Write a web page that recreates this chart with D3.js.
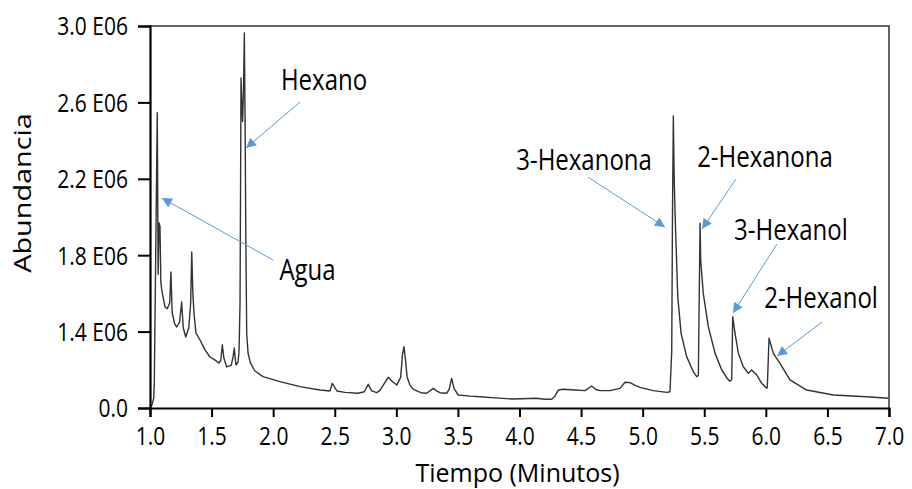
<!DOCTYPE html>
<html>
<head>
<meta charset="utf-8">
<script src="https://cdn.jsdelivr.net/npm/d3@7"></script>
<style>
  body { margin: 0; background: #fff; }
  text { font-family: "Open Sans", "Noto Sans", sans-serif; fill: #000; }
</style>
</head>
<body>
<script>
// retention time (min) and abundance (E06)
var times = [1.000, 1.016, 1.030, 1.035, 1.048, 1.059, 1.066, 1.074, 1.081, 1.088, 1.095, 1.106, 1.122, 1.140, 1.160,
  1.170, 1.180, 1.200, 1.217, 1.240, 1.257, 1.270, 1.290, 1.315, 1.330, 1.339, 1.348, 1.357, 1.373, 1.406,
  1.447, 1.487, 1.528, 1.560, 1.575, 1.587, 1.600, 1.623, 1.660, 1.675, 1.684, 1.692, 1.698, 1.715, 1.723,
  1.731, 1.737, 1.739, 1.745, 1.752, 1.760, 1.766, 1.772, 1.778, 1.785, 1.796, 1.815, 1.850, 1.917, 2.055,
  2.218, 2.380, 2.461, 2.480, 2.518, 2.583, 2.689, 2.740, 2.772, 2.800, 2.841, 2.870, 2.894, 2.935, 2.965,
  3.003, 3.035, 3.050, 3.062, 3.075, 3.087, 3.110, 3.138, 3.200, 3.246, 3.300, 3.330, 3.354, 3.409, 3.430,
  3.449, 3.470, 3.503, 3.600, 3.679, 3.800, 3.947, 4.140, 4.200, 4.261, 4.285, 4.315, 4.356, 4.450, 4.532,
  4.586, 4.620, 4.653, 4.735, 4.816, 4.856, 4.897, 4.940, 4.978, 5.086, 5.195, 5.222, 5.236, 5.242, 5.249,
  5.256, 5.263, 5.285, 5.312, 5.357, 5.411, 5.439, 5.452, 5.466, 5.471, 5.492, 5.533, 5.588, 5.642, 5.695,
  5.709, 5.723, 5.731, 5.750, 5.777, 5.817, 5.858, 5.885, 5.926, 5.966, 6.007, 6.012, 6.026, 6.061, 6.115,
  6.196, 6.332, 6.548, 6.819, 6.994];
var abundance = [1.000, 1.016, 1.050, 1.131, 1.900, 2.546, 1.700, 1.969, 1.950, 1.660, 1.620, 1.581, 1.529, 1.520, 1.550,
  1.712, 1.500, 1.440, 1.424, 1.450, 1.555, 1.420, 1.372, 1.420, 1.550, 1.817, 1.600, 1.497, 1.393, 1.356,
  1.304, 1.267, 1.251, 1.235, 1.250, 1.330, 1.260, 1.215, 1.225, 1.270, 1.314, 1.260, 1.225, 1.240, 1.300,
  1.550, 2.400, 2.728, 2.600, 2.500, 2.700, 2.963, 2.500, 1.900, 1.393, 1.288, 1.236, 1.195, 1.164, 1.138,
  1.112, 1.094, 1.089, 1.129, 1.089, 1.082, 1.077, 1.085, 1.124, 1.090, 1.080, 1.095, 1.120, 1.161, 1.140,
  1.120, 1.160, 1.280, 1.321, 1.250, 1.164, 1.120, 1.098, 1.080, 1.077, 1.103, 1.088, 1.080, 1.077, 1.100,
  1.155, 1.100, 1.068, 1.062, 1.059, 1.053, 1.047, 1.051, 1.046, 1.046, 1.060, 1.094, 1.098, 1.094, 1.091,
  1.115, 1.097, 1.091, 1.091, 1.103, 1.135, 1.133, 1.118, 1.108, 1.091, 1.082, 1.085, 1.300, 2.000, 2.529,
  2.200, 2.019, 1.583, 1.391, 1.269, 1.190, 1.164, 1.170, 1.967, 1.775, 1.600, 1.426, 1.286, 1.199, 1.147,
  1.140, 1.150, 1.478, 1.391, 1.286, 1.216, 1.182, 1.199, 1.173, 1.129, 1.103, 1.110, 1.365, 1.286, 1.234,
  1.147, 1.094, 1.068, 1.059, 1.051];

var xTicks = [1.0, 1.5, 2.0, 2.5, 3.0, 3.5, 4.0, 4.5, 5.0, 5.5, 6.0, 6.5, 7.0];
var yTicks = [1.0, 1.4, 1.8, 2.2, 2.6, 3.0];
var yTickLabels = ["0.0", "1.4 E06", "1.8 E06", "2.2 E06", "2.6 E06", "3.0 E06"];

var peakNames = ["Hexano", "Agua", "3-Hexanona", "2-Hexanona", "3-Hexanol", "2-Hexanol"];
var labelAt = [[2.413, 2.717], [2.279, 1.723], [4.524, 2.298], [5.993, 2.314], [6.204, 1.932], [6.448, 1.576]];
var arrowFrom = [[2.218, 2.602], [1.999, 1.775], [4.556, 2.209], [5.758, 2.199], [6.091, 1.859], [6.456, 1.450]];
var arrowTo = [[1.779, 2.361], [1.097, 2.099], [5.181, 1.947], [5.482, 1.937], [5.733, 1.497], [6.091, 1.272]];

var margin = {top: 26, right: 23, bottom: 81, left: 150},
    width = 912 - margin.left - margin.right,
    height = 489 - margin.top - margin.bottom;

var stretch = 1.2; // text in the original is drawn a bit tall

var x = d3.scaleLinear().domain([1.0, 7.0]).range([0, width]);
var y = d3.scaleLinear().domain([1.0, 3.0]).range([height, 0]);

var svg = d3.select("body").append("svg")
    .attr("width", 912)
    .attr("height", 489)
  .append("g")
    .attr("transform", "translate(" + margin.left + "," + margin.top + ")");

svg.append("defs").append("marker")
    .attr("id", "head")
    .attr("viewBox", "0 0 10 10")
    .attr("refX", 10).attr("refY", 5)
    .attr("markerWidth", 11).attr("markerHeight", 10)
    .attr("markerUnits", "userSpaceOnUse")
    .attr("orient", "auto")
  .append("path")
    .attr("d", "M0,0L10,5L0,10z")
    .attr("fill", "#5b9bd5");

// frame top & right
svg.append("path")
    .attr("d", "M0,0H" + width + "V" + height)
    .attr("fill", "none")
    .attr("stroke", "#333")
    .attr("stroke-width", 1.5);

var pts = times.map(function(t, i) { return [t, abundance[i]]; });
var line = d3.line()
    .x(function(d) { return x(d[0]); })
    .y(function(d) { return y(d[1]); });

svg.append("path")
    .datum(pts)
    .attr("d", line)
    .attr("fill", "none")
    .attr("stroke", "#333")
    .attr("stroke-width", 1.4)
    .attr("stroke-linejoin", "round");

var xAxis = svg.append("g")
    .attr("transform", "translate(0," + height + ")")
    .call(d3.axisBottom(x).tickValues(xTicks).tickFormat(d3.format(".1f")).tickSize(9));

var yAxis = svg.append("g")
    .call(d3.axisLeft(y).tickValues(yTicks).tickFormat(function(d, i) { return yTickLabels[i]; }).tickSize(12).tickPadding(10));

[xAxis, yAxis].forEach(function(a) {
  a.select(".domain").attr("stroke", "#000").attr("stroke-width", 2.2);
  a.selectAll(".tick line").attr("stroke", "#000").attr("stroke-width", 2);
  a.selectAll(".tick text")
      .style("font-size", "21px")
      .style("font-family", "'Open Sans', sans-serif")
      .attr("fill", "#000");
});
xAxis.selectAll(".tick text")
    .attr("y", 37 / stretch)
    .attr("dy", 0)
    .attr("transform", "scale(1," + stretch + ")");
yAxis.selectAll(".tick text")
    .attr("dy", "0.35em")
    .attr("transform", "scale(1," + stretch + ")");

// annotations
peakNames.forEach(function(name, i) {
  svg.append("line")
      .attr("x1", x(arrowFrom[i][0])).attr("y1", y(arrowFrom[i][1]))
      .attr("x2", x(arrowTo[i][0])).attr("y2", y(arrowTo[i][1]))
      .attr("stroke", "#5b9bd5")
      .attr("stroke-width", 1)
      .attr("marker-end", "url(#head)");
  svg.append("text")
      .attr("transform", "translate(" + x(labelAt[i][0]) + "," + y(labelAt[i][1]) + ") scale(1," + stretch + ")")
      .attr("dy", "0.36em")
      .attr("text-anchor", "middle")
      .style("font-size", "24px")
      .text(name);
});

svg.append("text")
    .attr("x", width / 2 - 2)
    .attr("y", height + 74)
    .attr("text-anchor", "middle")
    .style("font-size", "25px")
    .text("Tiempo (Minutos)");

svg.append("text")
    .attr("transform", "translate(" + (-128) + "," + (height / 2 - 24) + ") rotate(-90) scale(" + stretch + ",1)")
    .attr("text-anchor", "middle")
    .attr("dy", "0.36em")
    .style("font-size", "24px")
    .text("Abundancia");
</script>
</body>
</html>
